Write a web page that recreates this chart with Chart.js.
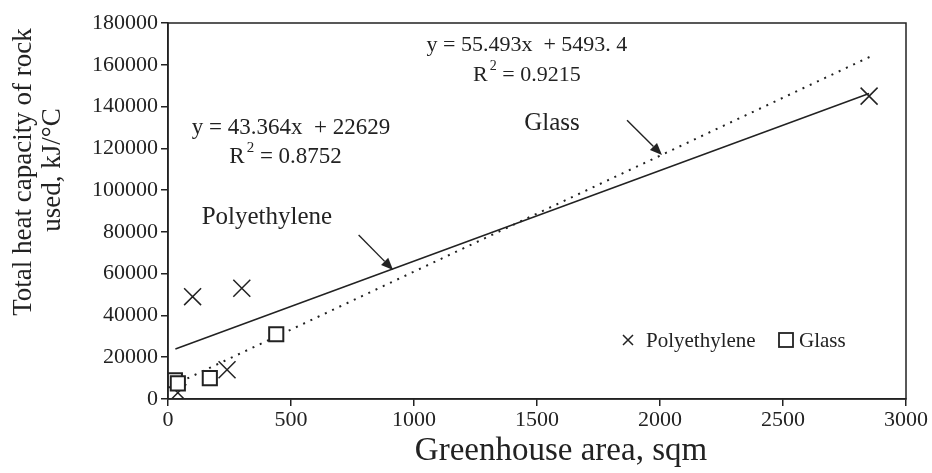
<!DOCTYPE html>
<html>
<head>
<meta charset="utf-8">
<script src="https://cdn.jsdelivr.net/npm/chart.js@4/dist/chart.umd.min.js"></script>
<style>
html, body { margin: 0; padding: 0; background: #fff; }
#wrap { width: 932px; height: 473px; }
</style>
</head>
<body>
<div id="wrap"><canvas id="chart"></canvas></div>
<script>
// data
const polyX = [100, 300, 240, 2850, 40];
const polyY = [49000, 53000, 14000, 145000, 3000];
const glassX = [440, 170, 28, 40];
const glassY = [31000, 10000, 9000, 7500];

// trend lines, y = a*x + b, as printed on the chart
const polyFit = [43.364, 22629];
const glassFit = [55.493, 5493.4];
const polyFitX = [30, 2850];
const glassFitX = [20, 2870];

const xTicks = [0, 500, 1000, 1500, 2000, 2500, 3000];
const yTicks = [0, 20000, 40000, 60000, 80000, 100000, 120000, 140000, 160000, 180000];

const INK = "#222";
const SERIF = "'Liberation Serif', 'Times New Roman', serif";

function pts(xs, ys) {
    return xs.map((x, i) => ({ x: x, y: ys[i] }));
}
function fitPts(fit, xs) {
    return xs.map(x => ({ x: x, y: fit[0] * x + fit[1] }));
}

// texts and arrows, in data units
const notes = [
    { t: "y = 55.493x  + 5493. 4", x: 1459, y: 169500, size: 22 },
    { r2: "0.9215", x: 1459, y: 155100, size: 22 },
    { t: "y = 43.364x  + 22629", x: 500, y: 129700, size: 23 },
    { r2: "0.8752", x: 478, y: 115900, size: 23 },
    { t: "Glass", x: 1561, y: 131700, size: 25 },
    { t: "Polyethylene", x: 402, y: 87000, size: 25 }
];
const arrows = [
    { x0: 1866, y0: 133500, x1: 2008, y1: 116800 },
    { x0: 775, y0: 78500, x1: 915, y1: 61800 }
];

function drawR2(ctx, val, cx, cy, size) {
    const big = size + "px " + SERIF, small = Math.round(size * 0.65) + "px " + SERIF;
    const rest = " = " + val;
    ctx.font = big;
    const wR = ctx.measureText("R").width, wRest = ctx.measureText(rest).width;
    ctx.font = small;
    const w2 = ctx.measureText("2").width + 2;
    let x = cx - (wR + w2 + wRest) / 2;
    ctx.textAlign = "left";
    ctx.font = big;
    ctx.fillText("R", x, cy);
    ctx.font = small;
    ctx.fillText("2", x + wR + 2, cy - size * 0.38);
    ctx.font = big;
    ctx.fillText(rest, x + wR + w2, cy);
    ctx.textAlign = "center";
}

const extras = {
    id: "extras",
    afterDatasetsDraw(chart) {
        const ctx = chart.ctx;
        const a = chart.chartArea;
        const xs = chart.scales.x, ys = chart.scales.y;
        ctx.save();
        // frame
        ctx.strokeStyle = INK;
        ctx.lineWidth = 1.5;
        ctx.strokeRect(a.left, a.top, a.right - a.left, a.bottom - a.top);

        ctx.fillStyle = INK;
        ctx.textAlign = "center";
        ctx.textBaseline = "middle";
        notes.forEach(n => {
            const px = xs.getPixelForValue(n.x), py = ys.getPixelForValue(n.y);
            if (n.r2) {
                drawR2(ctx, n.r2, px, py, n.size);
            } else {
                ctx.font = n.size + "px " + SERIF;
                ctx.fillText(n.t, px, py);
            }
        });

        // arrows
        arrows.forEach(ar => {
            const x0 = xs.getPixelForValue(ar.x0), y0 = ys.getPixelForValue(ar.y0);
            const x1 = xs.getPixelForValue(ar.x1), y1 = ys.getPixelForValue(ar.y1);
            const ang = Math.atan2(y1 - y0, x1 - x0);
            const L = 12, W = 5;
            ctx.lineWidth = 1.4;
            ctx.beginPath();
            ctx.moveTo(x0, y0);
            ctx.lineTo(x1 - L * Math.cos(ang), y1 - L * Math.sin(ang));
            ctx.stroke();
            ctx.beginPath();
            ctx.moveTo(x1, y1);
            ctx.lineTo(x1 - L * Math.cos(ang) + W * Math.sin(ang), y1 - L * Math.sin(ang) - W * Math.cos(ang));
            ctx.lineTo(x1 - L * Math.cos(ang) - W * Math.sin(ang), y1 - L * Math.sin(ang) + W * Math.cos(ang));
            ctx.closePath();
            ctx.fill();
        });

        // legend inside the plot
        const ly = a.bottom - 59;
        let lx = a.left + 460;
        ctx.lineWidth = 1.5;
        ctx.beginPath();
        ctx.moveTo(lx - 5, ly - 5); ctx.lineTo(lx + 5, ly + 5);
        ctx.moveTo(lx - 5, ly + 5); ctx.lineTo(lx + 5, ly - 5);
        ctx.stroke();
        ctx.font = "21px " + SERIF;
        ctx.textAlign = "left";
        ctx.fillText("Polyethylene", lx + 18, ly + 1);
        lx = a.left + 618;
        ctx.lineWidth = 1.8;
        ctx.strokeRect(lx - 7, ly - 7, 14, 14);
        ctx.fillText("Glass", lx + 13, ly + 1);

        // axis titles
        ctx.textAlign = "center";
        ctx.textBaseline = "alphabetic";
        ctx.font = "33px " + SERIF;
        ctx.fillText("Greenhouse area, sqm", 561, 460);
        ctx.font = "27px " + SERIF;
        ctx.translate(0, 172);
        ctx.rotate(-Math.PI / 2);
        ctx.fillText("Total heat capacity of rock", 0, 31);
        ctx.fillText("used, kJ/°C", 2, 60);
        ctx.restore();
    }
};

new Chart(document.getElementById("chart"), {
    type: "scatter",
    data: {
        datasets: [
            {
                label: "Polyethylene",
                data: pts(polyX, polyY),
                pointStyle: "crossRot",
                pointRadius: 12,
                borderColor: INK,
                borderWidth: 1.5,
                order: 1
            },
            {
                label: "Glass",
                data: pts(glassX, glassY),
                pointStyle: "rect",
                pointRadius: 10,
                backgroundColor: "#fff",
                borderColor: INK,
                borderWidth: 2,
                order: 0
            },
            {
                label: "Polyethylene fit",
                type: "line",
                data: fitPts(polyFit, polyFitX),
                borderColor: INK,
                borderWidth: 1.5,
                pointRadius: 0,
                fill: false,
                order: 3
            },
            {
                label: "Glass fit",
                type: "line",
                data: fitPts(glassFit, glassFitX),
                borderColor: INK,
                borderWidth: 2,
                borderDash: [2, 6],
                pointRadius: 0,
                fill: false,
                order: 2
            }
        ]
    },
    options: {
        responsive: true,
        maintainAspectRatio: false,
        animation: false,
        layout: { padding: { top: 23, right: 26, bottom: 0, left: 0 } },
        plugins: {
            legend: { display: false },
            tooltip: { enabled: false }
        },
        scales: {
            x: {
                type: "linear",
                min: 0,
                max: 3000,
                afterBuildTicks: s => { s.ticks = xTicks.map(v => ({ value: v })); },
                afterFit: s => { s.height = 74; },
                border: { color: INK, width: 1.5 },
                grid: { drawOnChartArea: false, color: INK, tickLength: 7, lineWidth: 1.5 },
                ticks: {
                    color: INK,
                    font: { family: SERIF, size: 22 },
                    padding: 1,
                    callback: v => String(v)
                }
            },
            y: {
                type: "linear",
                min: 0,
                max: 180000,
                afterBuildTicks: s => { s.ticks = yTicks.map(v => ({ value: v })); },
                afterFit: s => { s.width = 168; },
                border: { color: INK, width: 1.5 },
                grid: { drawOnChartArea: false, color: INK, tickLength: 7, lineWidth: 1.5 },
                ticks: {
                    color: INK,
                    font: { family: SERIF, size: 22 },
                    padding: 3,
                    callback: v => String(v)
                }
            }
        }
    },
    plugins: [extras]
});
</script>
</body>
</html>
